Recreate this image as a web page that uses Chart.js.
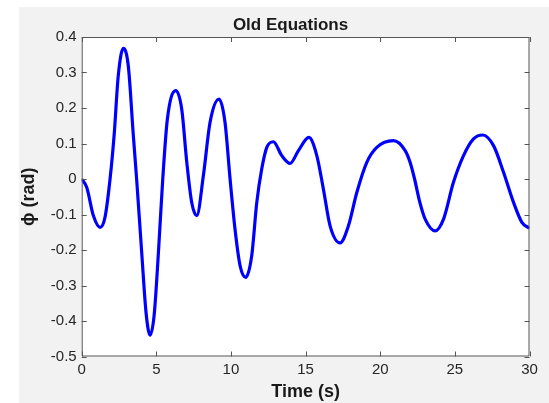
<!DOCTYPE html>
<html>
<head>
<meta charset="utf-8">
<script src="https://cdn.jsdelivr.net/npm/chart.js@4"></script>
<style>
  body { margin: 0; background: #fff; }
  canvas { display: block; }
</style>
</head>
<body>
<canvas id="chart" width="549" height="403"></canvas>
<script>
// valores
const tiempo = [0, 0.34, 0.78, 1.23, 1.56, 1.9, 2.17, 2.45, 2.79, 3.12, 3.46, 3.68, 4.02, 4.31, 4.58, 4.85, 5.14, 5.43, 5.74, 6.3,
  6.7, 7.04, 7.37, 7.71, 8.15, 8.6, 9.2, 9.6, 9.94, 10.27, 10.61, 10.99, 11.39, 11.73, 12.06, 12.4, 12.84, 13.4, 13.96, 14.52,
  15.22, 15.75, 16.19, 16.64, 17.31, 17.87, 18.43, 19.1, 19.77, 20.88, 21.67, 22.0, 22.3, 22.65, 23.01, 23.68, 24.24, 24.9, 25.58, 26.25,
  26.87, 27.59, 28.26, 28.93, 29.49, 30]
const phi = [0, -0.024, -0.103, -0.136, -0.108, 0, 0.122, 0.291, 0.368, 0.319, 0.122, 0, -0.207, -0.376, -0.44, -0.385, -0.207, 0, 0.169, 0.249,
  0.197, 0.047, -0.066, -0.103, 0.009, 0.16, 0.225, 0.16, 0, -0.141, -0.244, -0.277, -0.216, -0.066, 0.028, 0.089, 0.105, 0.066, 0.044, 0.08,
  0.117, 0.066, -0.028, -0.132, -0.18, -0.132, -0.038, 0.047, 0.089, 0.108, 0.08, 0.047, 0, -0.065, -0.113, -0.146, -0.113, -0.01, 0.066, 0.113,
  0.124, 0.094, 0.019, -0.066, -0.122, -0.139]

const xTicks = [0, 5, 10, 15, 20, 25, 30]
const yTicks = [-0.5, -0.4, -0.3, -0.2, -0.1, 0, 0.1, 0.2, 0.3, 0.4]

const titulo = "Old Equations"
const ejeX = "Time (s)"
const ejeY = "ϕ (rad)"

const axisColor = "#262626"

const marco = {
  id: "marco",
  beforeDraw(c) {
    const { ctx, chartArea: a } = c
    ctx.save()
    ctx.fillStyle = "#fff"
    ctx.fillRect(0, 0, c.width, c.height)
    ctx.fillStyle = "#f2f2f2"
    ctx.fillRect(19, 7, c.width - 19, c.height - 7)
    ctx.fillStyle = "#fff"
    ctx.fillRect(a.left, a.top, a.right - a.left, a.bottom - a.top)
    ctx.restore()
  },
  afterDraw(c) {
    const { ctx, chartArea: a, scales } = c
    ctx.save()
    ctx.strokeStyle = "#555"
    ctx.lineWidth = 1
    ctx.beginPath()
    ctx.rect(a.left + 0.5, a.top + 0.5, a.right - a.left - 1, a.bottom - a.top - 1)
    // ticks hacia adentro
    xTicks.forEach(v => {
      const px = Math.round(scales.x.getPixelForValue(v)) + 0.5
      ctx.moveTo(px, a.bottom); ctx.lineTo(px, a.bottom - 5)
      ctx.moveTo(px, a.top); ctx.lineTo(px, a.top + 5)
    })
    yTicks.forEach(v => {
      const py = Math.round(scales.y.getPixelForValue(v)) + 0.5
      ctx.moveTo(a.left, py); ctx.lineTo(a.left + 5, py)
      ctx.moveTo(a.right, py); ctx.lineTo(a.right - 5, py)
    })
    ctx.stroke()
    ctx.fillStyle = "#1a1a1a"
    ctx.font = "bold 17px 'Liberation Sans', Arial, sans-serif"
    ctx.textAlign = "center"
    ctx.textBaseline = "middle"
    ctx.fillText(titulo, 290.5, 25)
    ctx.restore()
  }
}

function createChart() {
  const canvas = document.getElementById("chart")
  const data = {
    type: "line",
    data: {
      datasets: [{
        data: tiempo.map((t, i) => ({ x: t, y: phi[i] })),
        borderColor: "#0000ff",
        borderWidth: 3.2,
        pointRadius: 0,
        fill: false,
        cubicInterpolationMode: "monotone"
      }]
    },
    options: {
      responsive: false,
      animation: false,
      devicePixelRatio: 1,
      layout: { padding: { top: 37, right: 19.5, left: 0, bottom: 0 } },
      plugins: { legend: { display: false }, tooltip: { enabled: false } },
      scales: {
        x: {
          type: "linear",
          min: 0,
          max: 30,
          afterBuildTicks: s => { s.ticks = xTicks.map(v => ({ value: v })) },
          afterFit: s => { s.height = 46.5 },
          grid: { display: false, drawTicks: false },
          border: { display: false },
          ticks: { padding: 4, color: axisColor, font: { family: "'Liberation Sans', Arial, sans-serif", size: 15 }, maxRotation: 0 },
          title: { display: true, text: ejeX, color: "#1a1a1a", padding: { top: 0, bottom: 0 }, font: { family: "'Liberation Sans', Arial, sans-serif", size: 18, weight: "bold", lineHeight: 1.2 } }
        },
        y: {
          min: -0.5,
          max: 0.4,
          afterBuildTicks: s => { s.ticks = yTicks.map(v => ({ value: v })) },
          afterFit: s => { s.width = 81.7 },
          grid: { display: false, drawTicks: false },
          border: { display: false },
          ticks: {
            padding: 5,
            color: axisColor,
            font: { family: "'Liberation Sans', Arial, sans-serif", size: 15 },
            callback: v => String(Number(v.toFixed(1)))
          },
          title: { display: true, text: ejeY, color: "#1a1a1a", padding: { top: 18.5, bottom: 0 }, font: { family: "'Liberation Sans', 'DejaVu Sans', Arial, sans-serif", size: 18, weight: "bold", lineHeight: 1.2 } }
        }
      }
    },
    plugins: [marco]
  }
  new Chart(canvas, data)
}

createChart()
</script>
</body>
</html>
